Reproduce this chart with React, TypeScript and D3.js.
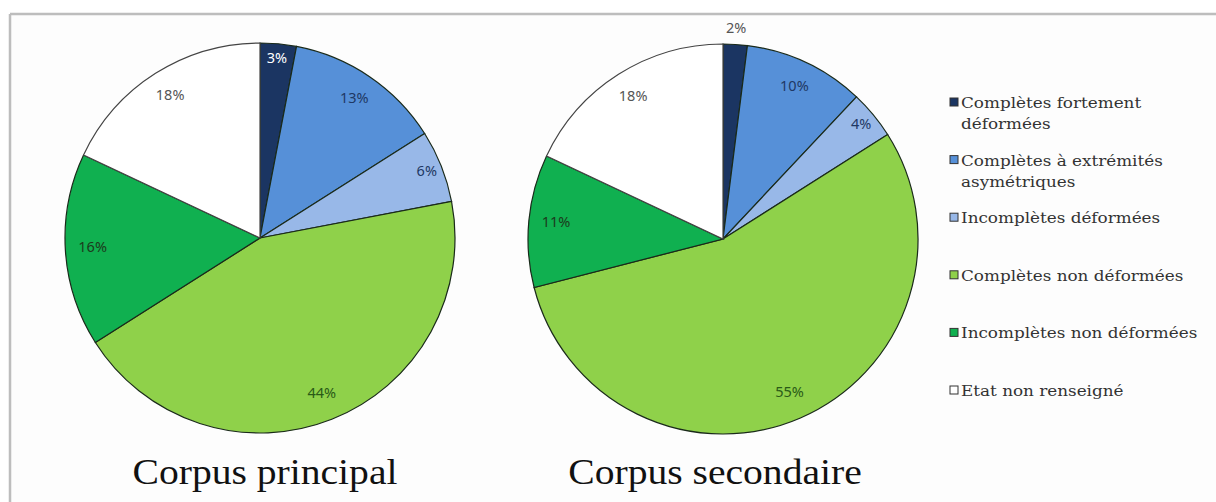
import React from 'react';
import * as d3 from 'd3';

const categories = [
  'Complètes fortement déformées',
  'Complètes à extrémités asymétriques',
  'Incomplètes déformées',
  'Complètes non déformées',
  'Incomplètes non déformées',
  'Etat non renseigné',
];
const legendLines = [
  ['Complètes fortement', 'déformées'],
  ['Complètes à extrémités', 'asymétriques'],
  ['Incomplètes déformées'],
  ['Complètes non déformées'],
  ['Incomplètes non déformées'],
  ['Etat non renseigné'],
];
const principalValues = [3, 13, 6, 44, 16, 18];
const secondaireValues = [2, 10, 4, 55, 11, 18];
const chartTitles = ['Corpus principal', 'Corpus secondaire'];

const sliceColors = ['#1b3562', '#5690d8', '#98b8e8', '#8fd14a', '#10b050', '#ffffff'];
const labelColors = ['#ffffff', '#1f3864', '#1f3864', '#2a5a17', '#1c3a1c', '#555555'];

const W = 1216;
const H = 502;
const R = 195;

function Pie({ values, cx, cy, title, titleX }: { values: number[]; cx: number; cy: number; title: string; titleX: number }) {
  const pie = d3.pie<number>().sort(null).value((d) => d);
  const arcs = pie(values);
  const arc = d3.arc<d3.PieArcDatum<number>>().innerRadius(0).outerRadius(R);
  return (
    <g>
      <g transform={`translate(${cx},${cy})`}>
        {arcs.map((a, i) => (
          <path key={i} d={arc(a) || ''} fill={sliceColors[i]} stroke={i === 5 ? '#444' : '#1a2a1a'} strokeWidth={1.2} />
        ))}
        {arcs.map((a, i) => {
          const v = values[i];
          const lr = v < 2.5 ? R * 1.08 : v < 8 ? R * 0.92 : R * 0.86;
          const mid = (a.startAngle + a.endAngle) / 2;
          const x = Math.sin(mid) * lr;
          const y = -Math.cos(mid) * lr;
          const outside = v < 2.5;
          return (
            <text key={'l' + i} x={x} y={y} textAnchor="middle" dominantBaseline="middle"
              fontFamily="'Noto Sans', sans-serif" fontSize={14.5}
              fill={outside ? '#555555' : labelColors[i]}>
              {v}%
            </text>
          );
        })}
      </g>
      <g transform={`translate(${titleX},484) scale(1.1,1)`}>
        <text x={0} y={0} textAnchor="middle" fontFamily="'Liberation Serif', serif" fontSize={36} fill="#111">
          {title}
        </text>
      </g>
    </g>
  );
}

export default function App() {
  const rowY = d3.scalePoint<string>().domain(categories).range([108, 396]);
  const legendX = 961;
  return (
    <svg width={W} height={H} style={{ position: 'absolute', left: 0, top: 0, background: '#ffffff' }}>
      <rect x={10} y={14} width={W - 10} height={H - 14} fill="#fdfdfd" />
      <line x1={10} y1={14} x2={W} y2={14} stroke="#bdbdbd" strokeWidth={2.5} />
      <line x1={10} y1={14} x2={10} y2={H} stroke="#bdbdbd" strokeWidth={2.5} />
      <Pie values={principalValues} cx={260} cy={238} title={chartTitles[0]} titleX={265} />
      <Pie values={secondaireValues} cx={723} cy={239} title={chartTitles[1]} titleX={715} />
      <g>
        {categories.map((c, i) => {
          const y = rowY(c) as number;
          return (
            <g key={c}>
              <rect x={950} y={y - 10} width={8} height={8} fill={sliceColors[i]} stroke="#333" strokeWidth={1} />
              <g transform={`translate(${legendX},0) scale(1.16,1)`}>
                {legendLines[i].map((ln, j) => (
                  <text key={j} x={0} y={y + j * 21} fontFamily="'DejaVu Serif', serif" fontSize={14.5} fill="#333">
                    {ln}
                  </text>
                ))}
              </g>
            </g>
          );
        })}
      </g>
    </svg>
  );
}
